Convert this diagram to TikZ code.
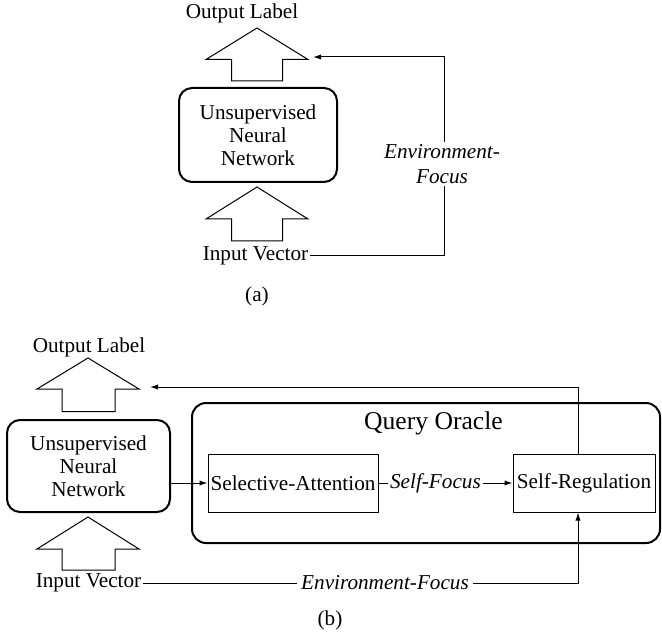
\documentclass[tikz,border=0pt]{standalone}
\usepackage{fontspec}
\setmainfont{Liberation Serif}
\usetikzlibrary{arrows.meta, positioning}

\tikzset{
	nnbox/.style   = {draw, line width=1pt, rounded corners=6.5pt, align=center, inner sep=0pt},
	oraclebox/.style = {draw, line width=1pt, rounded corners=7pt, inner sep=0pt},
	stagebox/.style = {draw, line width=0.5pt, inner sep=0pt},
	conn/.style    = {line width=0.5pt, -{Latex[length=4pt, width=2.6pt]}},
	blockarr/.style = {draw, line width=0.5pt, line join=miter},
	invec/.style   = {inner xsep=0.5pt},
	focus/.style   = {font=\fontsize{10.6}{12.5}\selectfont\itshape, fill=white, inner sep=1pt, align=center}
}

\begin{document}
\begin{tikzpicture}[x=0.5pt, y=-0.5pt, font=\fontsize{10.6}{11.5}\selectfont]
	\useasboundingbox (0,0) rectangle (662,641);

	% (a)
	\node (outa) at (242, 13) {Output Label};
	\draw[blockarr] (257, 28) -- (308, 59.5) -- (282.5, 59.5) -- (282.5, 81) -- (231.5, 81) -- (231.5, 59.5) -- (206, 59.5) -- cycle;
	\node[nnbox, minimum width=79pt, minimum height=47pt] (nna) at (258, 135) {Unsupervised\\Neural\\Network};
	\draw[blockarr] (257, 187) -- (308, 219) -- (282.5, 219) -- (282.5, 241) -- (231.5, 241) -- (231.5, 219) -- (206, 219) -- cycle;
	\node[invec] (iva) at (255.5, 256) {Input Vector};
	\coordinate (feeda) at (313, 57);
	\draw[conn] (iva.east) -- (444, 256) -- (444, 57) -- (feeda);
	\node[focus] (envfa) at (442, 164) {Environment-\\Focus};
	\node (capa) at (257, 296) {(a)};

	% (b)
	\node (outb) at (89, 347) {Output Label};
	\draw[blockarr] (88, 358) -- (139, 389) -- (115, 389) -- (115, 411.5) -- (62, 411.5) -- (62, 389) -- (37, 389) -- cycle;
	\node[nnbox, minimum width=81.5pt, minimum height=46pt] (nnb) at (88.5, 466) {Unsupervised\\Neural\\Network};
	\draw[blockarr] (88, 517) -- (139, 549) -- (115, 549) -- (115, 570) -- (62, 570) -- (62, 549) -- (37, 549) -- cycle;
	\node[invec] (ivb) at (88.5, 583) {Input Vector};

	\node[oraclebox, minimum width=234pt, minimum height=70pt] (oracle) at (426, 473) {};
	\node[font=\fontsize{12.8}{15}\selectfont] (oraclelbl) at (433.5, 423) {Query Oracle};
	\node[stagebox, minimum width=85pt, minimum height=29pt] (sa) at (293, 483) {Selective-Attention};
	\node[stagebox, minimum width=71pt, minimum height=29pt] (sr) at (584, 483) {Self-Regulation};

	\draw[conn] (nnb.east |- sa.west) -- (sa.west);
	\draw[conn] (sa.east) -- node[focus, pos=0.425] (selff) {Self-Focus} (sr.west);

	\coordinate (feedb) at (150, 387);
	\draw[conn] ([xshift=-3pt]sr.north) -- ([xshift=-3pt]sr.north |- feedb) -- (feedb);
	\draw[conn] (ivb.east) -- ([xshift=-3pt]sr.south |- ivb.east) -- ([xshift=-3pt]sr.south);
	\node[focus, inner xsep=2pt] (envfb) at (385, 583) {Environment-Focus};

	\node (capb) at (330, 620) {(b)};
\end{tikzpicture}
\end{document}
